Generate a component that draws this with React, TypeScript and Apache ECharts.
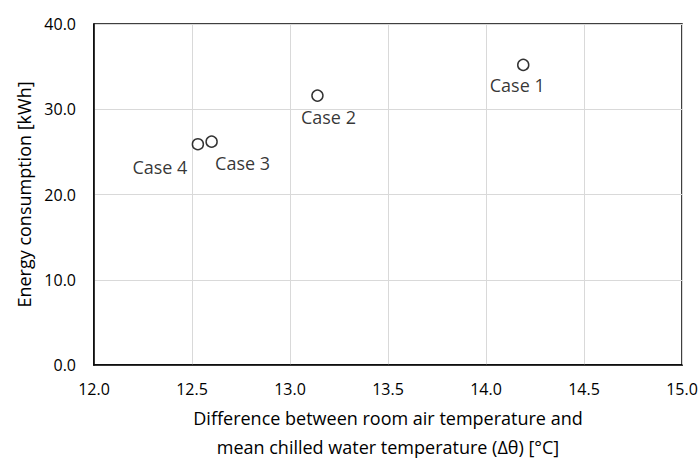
import React, { useEffect, useRef } from "react";
import * as echarts from "echarts";

const caseNames = ["Case 1", "Case 2", "Case 3", "Case 4"];
const deltaTheta = [14.19, 13.14, 12.6, 12.53];
const energy = [35.2, 31.6, 26.2, 25.9];
const labelOffsets: [number, number][] = [
  [-6, 20],
  [11, 21],
  [31, 21],
  [-38, 23],
];
const xTitleLines = [
  "Difference between room air temperature and",
  "mean chilled water temperature (Δθ) [°C]",
];
const yTitle = "Energy consumption [kWh]";

const FONT = "Open Sans";

export default function App() {
  const ref = useRef<HTMLDivElement>(null);
  useEffect(() => {
    document.body.style.margin = "0";
    if (!ref.current) return;
    const chart = echarts.init(ref.current, undefined, { renderer: "svg" });
    chart.setOption({
      animation: false,
      backgroundColor: "#fff",
      textStyle: { fontFamily: FONT },
      grid: {
        left: 94,
        top: 24,
        right: 18,
        bottom: 97,
        outerBoundsMode: "none",
        containLabel: false,
        show: true,
        borderColor: "#000",
        borderWidth: 1.5,
        backgroundColor: "transparent",
      },
      xAxis: {
        type: "value",
        min: 12,
        max: 15,
        interval: 0.5,
        axisLine: { show: true, lineStyle: { color: "#000", width: 1.5 } },
        axisTick: { show: false },
        splitLine: { show: true, lineStyle: { color: "#d9d9d9", width: 1 } },
        axisLabel: {
          color: "#000",
          fontSize: 16,
          fontFamily: FONT,
          margin: 16,
          formatter: (v: number) => v.toFixed(1),
        },
        name: `{a|${xTitleLines[0]}}\n{b|${xTitleLines[1]}}`,
        nameLocation: "middle",
        nameGap: 33,
        nameTextStyle: {
          color: "#000",
          fontSize: 18,
          fontFamily: FONT,
          rich: {
            a: { color: "#000", fontSize: 18, fontFamily: FONT, lineHeight: 40 },
            b: { color: "#000", fontSize: 18, fontFamily: FONT, lineHeight: 18 },
          },
        },
      },
      yAxis: {
        type: "value",
        min: 0,
        max: 40,
        interval: 10,
        axisLine: { show: true, lineStyle: { color: "#000", width: 1.5 } },
        axisTick: { show: false },
        splitLine: { show: true, lineStyle: { color: "#d9d9d9", width: 1 } },
        axisLabel: {
          color: "#000",
          fontSize: 16,
          fontFamily: FONT,
          margin: 18,
          formatter: (v: number) => v.toFixed(1),
        },
        name: yTitle,
        nameLocation: "middle",
        nameGap: 60,
        nameTextStyle: { color: "#000", fontSize: 18, fontFamily: FONT },
      },
      series: [
        {
          type: "scatter",
          symbol: "circle",
          symbolSize: 11,
          itemStyle: { color: "#fff", borderColor: "#000", borderWidth: 1.5 },
          data: deltaTheta.map((x, i) => ({
            value: [x, energy[i]],
            name: caseNames[i],
            label: {
              show: true,
              position: "inside",
              offset: labelOffsets[i],
              formatter: caseNames[i],
              color: "#000",
              fontSize: 18,
              fontFamily: FONT,
            },
          })),
        },
      ],
    });
    return () => chart.dispose();
  }, []);
  return <div ref={ref} style={{ width: 700, height: 462 }} />;
}
